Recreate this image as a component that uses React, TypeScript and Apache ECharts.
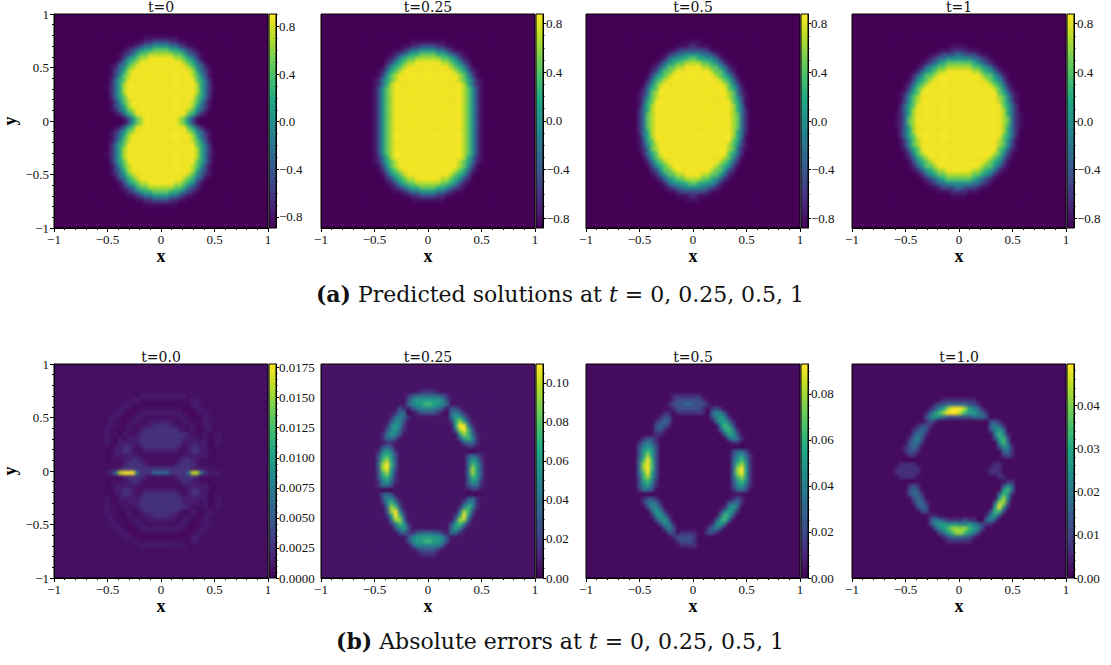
import React, { useEffect, useRef } from "react";
import * as echarts from "echarts";

const SERIF = "'Liberation Serif', serif";
const WIDE_SERIF = "'DejaVu Serif', serif";
const VIRIDIS = ["#440154", "#482475", "#414487", "#355f8d", "#2a788e", "#21918c", "#22a884", "#44bf70", "#7ad151", "#bddf26", "#fde725"];

const TOP_TITLES = ["t=0", "t=0.25", "t=0.5", "t=1"];
const BOTTOM_TITLES = ["t=0.0", "t=0.25", "t=0.5", "t=1.0"];

const TOP_RANGES = [[-0.893, 0.905], [-0.88, 0.878], [-0.88, 0.88], [-0.88, 0.88]];
const BOTTOM_MAX = [0.0178, 0.1097, 0.093, 0.0495];
const TOP_CB_TICKS = [-0.8, -0.4, 0, 0.4, 0.8];
const BOTTOM_CB_TICKS = [
  [0, 0.0025, 0.005, 0.0075, 0.01, 0.0125, 0.015, 0.0175],
  [0, 0.02, 0.04, 0.06, 0.08, 0.1],
  [0, 0.02, 0.04, 0.06, 0.08],
  [0, 0.01, 0.02, 0.03, 0.04],
];
const BOTTOM_CB_MINOR = [0.0005, 0.005, 0.005, 0.002];
const BOTTOM_CB_DECIMALS = [4, 2, 2, 2];

// brightness codes 0-9 -> fraction of the colour range
const TOP_LEVELS = [0, 0.04, 0.12, 0.22, 0.36, 0.5, 0.62, 0.75, 0.88, 0.985];
const ERR_LEVELS = [0, 0.03, 0.13, 0.24, 0.34, 0.44, 0.55, 0.68, 0.85, 1];
const ERR25_LEVELS = [0, 0.055, 0.14, 0.25, 0.34, 0.44, 0.55, 0.68, 0.85, 1];
const ERR0_LEVELS = [0, 0.02, 0.04, 0.075, 0.14, 0.33, 0.47, 0.7, 0.9, 1];

// predicted solutions: quarter of each (symmetric) field, x = .02 ... .58, y = .78 ... .02
const SOL_T0 = ["111100000000000", "332211000000000", "554432110000000", "776654321000000", "888776432100000", "999887653100000", "999998764310000", "999999875421000", "999999986431000", "999999987531000", "999999997642000", "999999998642000", "999999998642100", "999999998642000", "999999997642000", "999999987531000", "999999986431000", "999999875421000", "999999764210000", "999987531000000"];
const SOL_T025 = ["000000000000000", "111100000000000", "332211000000000", "554432110000000", "776654321000000", "888776532100000", "999887653200000", "999998765310000", "999999876421000", "999999987531000", "999999987642100", "999999998642100", "999999998753100", "999999998753100", "999999998753100", "999999998753100", "999999998753100", "999999998753100", "999999998753100", "999999998753100"];
const SOL_T05 = ["000000000000000", "110000000000000", "211100000000000", "333211000000000", "554432100000000", "766554210000000", "887765421000000", "998877542100000", "999987753200000", "999998765310000", "999999876420000", "999999987531000", "999999997642000", "999999998742100", "999999998753100", "999999999763100", "999999999864100", "999999999864200", "999999999874200", "999999999874200"];
const SOL_T1 = ["000000000000000", "000000000000000", "110000000000000", "221110000000000", "433321100000000", "555443210000000", "777654321000000", "888776542100000", "999887654210000", "999998775421000", "999999876531000", "999999987642100", "999999998753100", "999999999764210", "999999999875310", "999999999875310", "999999999976420", "999999999986420", "999999999986421", "999999999987421"];

// absolute errors: x = -.62 ... .62 (32 cols), y = .78 ... -.78 (40 rows)
const ERR_T0 = [
  "22222222222222222222222222222222",
  "22222222222222222222222222222222",
  "22222222222333333333332222222222",
  "22222222233222222222222332222222",
  "22222223322111111111122332222222",
  "22222233211222222222211233222222",
  "22222332112333333333321123322222",
  "22223321123322222222332112332222",
  "22223221233223333332233122322222",
  "22233221322233444433222312332222",
  "22232212322344444444322321232222",
  "22232213223444444444443222312322",
  "22232132333444444444433332312322",
  "22232133333444444444433333312322",
  "22221334432344444444323443312222",
  "22212334432233333333223443321222",
  "22212333333222222222233333321222",
  "22212223344322222222344332212222",
  "22222223444432222223444432222222",
  "22222334444444444444444333322222",
  "22234589995444555544445885433322",
  "22222223444432222223444432222222",
  "22212223344322222222344332212222",
  "22212333333222222222233333321222",
  "22212334432233333333223443321222",
  "22221334432344444444323443312222",
  "22232133333444444444433333312322",
  "22232132333444444444433332312322",
  "22232213223444444444443222312322",
  "22232212322344444444322321232222",
  "22233221322233444433222312332222",
  "22223221233223333332233122322222",
  "22223321123322222222332112332222",
  "22222332112333333333321123322222",
  "22222233211222222222211233222222",
  "22222223322111111111122332222222",
  "22222222233222222222222332222222",
  "22222222222333333333332222222222",
  "22222222222222222222222222222222",
  "22222222222222222222222222222222",
];
const ERR_T025 = [
  "11111111111111111111111111111111",
  "11111111111111222211111111111111",
  "11111111111234444443211111111111",
  "11111111111356666665311111111111",
  "11111111111456677665411111111111",
  "11111111132134555543133211111111",
  "11111111244012333321045421111111",
  "11111112454211111111146642111111",
  "11111113553111111111126863111111",
  "11111125652111111111116995211111",
  "11111135642111111111114897311111",
  "11111246531111111111111687421111",
  "11111244311111111111111367521111",
  "11111122111111111111111134421111",
  "11111343111111111111111112211111",
  "11112565211111111111111110011111",
  "11113676311111111111111113432111",
  "11113786311111111111111114652111",
  "11114897311111111111111114763111",
  "11113896311111111111111114863111",
  "11113786211111111111111114863111",
  "11113675211111111111111114763111",
  "11112564211111111111111113652111",
  "11112443111111111111111113442111",
  "11111000111111111111111111221111",
  "11111343111111111111111110001111",
  "11111355311111111111111113421111",
  "11111257521111111111111135521111",
  "11111148731111111111111257521111",
  "11111138952111111111111487311111",
  "11111126973111111111112696211111",
  "11111114884111111111114884111111",
  "11111112576211111111136752111111",
  "11111111356311111111146521111111",
  "11111111134223444432144211111111",
  "11111111111356666665311111111111",
  "11111111111356677665311111111111",
  "11111111111135555553111111111111",
  "11111111111112333321111111111111",
  "11111111111111222211111111111111",
];
const ERR_T05 = [
  "11111111111111111111111111111111",
  "11111111111111111111111111111111",
  "11111111111222222211111111111111",
  "11111111111233333321111111111111",
  "11111111112333443332111111111111",
  "11111111111233333321232111111111",
  "11111111122122222220455311111111",
  "11111111233111111111356521111111",
  "11111112343111111111146642111111",
  "11111113432111111111115763111111",
  "11111113321111111111113675211111",
  "11111112211111111111111466311111",
  "11112332111111111111111145421111",
  "11124542111111111111111112211111",
  "11135653111111111111111110001111",
  "11136763111111111111111113443111",
  "11136863111111111111111113564211",
  "11147973111111111111111114675211",
  "11148973111111111111111114786211",
  "11148973111111111111111114896211",
  "11147963111111111111111114896211",
  "11137863111111111111111114786211",
  "11136752111111111111111113675211",
  "11135642111111111111111113564211",
  "11124431111111111111111112443111",
  "11110001111111111111111111111111",
  "11112332111111111111111112321111",
  "11112454211111111111111134421111",
  "11111355311111111111111256411111",
  "11111146521111111111112565211111",
  "11111125642111111111114763111111",
  "11111113563111111111136741111111",
  "11111111355211111111256411111111",
  "11111111135311111112453111111111",
  "11111111113312222113321111111111",
  "11111111111233332111111111111111",
  "11111111111123332111111111111111",
  "11111111111112222111111111111111",
  "11111111111111111111111111111111",
  "11111111111111111111111111111111",
];
const ERR_T1 = [
  "11111111111111111111111111111111",
  "11111111111111111111111111111111",
  "11111111111111111111111111111111",
  "11111111111122222222111111111111",
  "11111111112334444433211111111111",
  "11111111123568999865421111111111",
  "11111111246789998766542111111111",
  "11111111356543333334443011111111",
  "11111111232111111111110332111111",
  "11111123321111111111111454211111",
  "11111234311111111111111356411111",
  "11111344211111111111111157521111",
  "11112453111111111111111136731111",
  "11113442111111111111111115741111",
  "11123431111111111111111113552111",
  "11123321111111111111111111442111",
  "11112211111111111111111111232111",
  "11100011111111111111111111111111",
  "11222211111111111111111122111111",
  "12222221111111111111111222111111",
  "12222221111111111111111222111111",
  "11222211111111111111111112211111",
  "11100011111111111111111111122111",
  "11112321111111111111111111354111",
  "11113431111111111111111111674111",
  "11113442111111111111111114762111",
  "11111343111111111111111116851111",
  "11111244211111111111111148831111",
  "11111134311111111111111169621111",
  "11111113311111111111111377311111",
  "11111111122111111111112563111111",
  "11111111135432222322104531111111",
  "11111111135666665565432211111111",
  "11111111113567888876531111111111",
  "11111111111346788765311111111111",
  "11111111111123444432111111111111",
  "11111111111112222221111111111111",
  "11111111111111111111111111111111",
  "11111111111111111111111111111111",
  "11111111111111111111111111111111",
];

const SOL_FIELDS = [SOL_T0, SOL_T025, SOL_T05, SOL_T1];
const ERR_FIELDS = [ERR_T0, ERR_T025, ERR_T05, ERR_T1];
const ERR_LEVEL_SETS = [ERR0_LEVELS, ERR25_LEVELS, ERR_LEVELS, ERR_LEVELS];
const ERR_BACK = ["#450e60", "#461365", "#450b5e", "#450b5e"];

const PANEL_LEFT = [54, 321, 586, 852];
const ROW_TOP = [14, 364];
const PANEL = 214;
const CB_W = 7;
const BAND = Array.from({ length: 50 }, (_, i) => String(i));

const sig = (v: number | string) => String(v).replace("-", "\u2212");

function solCells(rows: string[], lo: number, hi: number) {
  const out: number[][] = [];
  rows.forEach((row, r) => {
    const full = row.split("").reverse().join("") + row;
    full.split("").forEach((c, i) => {
      const v = lo + TOP_LEVELS[+c] * (hi - lo);
      out.push([10 + i, 44 - r, v], [10 + i, 5 + r, v]);
    });
  });
  return out;
}
function errCells(rows: string[], levels: number[], hi: number) {
  const out: number[][] = [];
  rows.forEach((row, r) => {
    row.padEnd(32, "1").slice(0, 32).split("").forEach((c, i) => {
      out.push([9 + i, 44 - r, levels[+c] * hi]);
    });
  });
  return out;
}
function minorValues(lo: number, hi: number, step: number, majors: number[]) {
  const out: number[] = [];
  const n0 = Math.ceil(lo / step);
  const n1 = Math.floor(hi / step);
  for (let n = n0; n <= n1; n++) {
    const v = +(n * step).toFixed(6);
    if (!majors.some((m) => Math.abs(m - v) < step / 10)) out.push(v);
  }
  return out;
}

type Spec = { row: number; col: number; name: string; data: number[][]; lo: number; hi: number; back: string; cbTicks: number[]; cbMinor: number[]; decimals: number };

function specs(): Spec[] {
  const out: Spec[] = [];
  TOP_TITLES.forEach((name, c) => {
    const [lo, hi] = TOP_RANGES[c];
    out.push({ row: 0, col: c, name, data: solCells(SOL_FIELDS[c], lo, hi), lo, hi, back: "#440154", cbTicks: TOP_CB_TICKS, cbMinor: minorValues(lo, hi, 0.1, TOP_CB_TICKS), decimals: 1 });
  });
  BOTTOM_TITLES.forEach((name, c) => {
    const hi = BOTTOM_MAX[c];
    out.push({ row: 1, col: c, name, data: errCells(ERR_FIELDS[c], ERR_LEVEL_SETS[c], hi), lo: 0, hi, back: ERR_BACK[c], cbTicks: BOTTOM_CB_TICKS[c], cbMinor: minorValues(0, hi, BOTTOM_CB_MINOR[c], BOTTOM_CB_TICKS[c]), decimals: BOTTOM_CB_DECIMALS[c] });
  });
  return out;
}

// Frames, axes, colour bars, texts.
function frameOption() {
  const grid: any[] = [];
  const xAxis: any[] = [];
  const yAxis: any[] = [];
  const title: any[] = [];
  const tickText = { fontFamily: SERIF, fontSize: 13, color: "#111" };
  const line = { lineStyle: { color: "#000", width: 1 } };
  const nameText = { fontFamily: SERIF, fontSize: 18, fontWeight: "bold", color: "#000" };

  specs().forEach((s) => {
    const left = PANEL_LEFT[s.col];
    const top = ROW_TOP[s.row];
    title.push({
      text: s.name, left: left + PANEL / 2, top: top - 14, padding: 0, textAlign: "center",
      textStyle: { fontFamily: WIDE_SERIF, fontSize: 14, fontWeight: "normal", color: "#111" },
    });
    const g = grid.length;
    grid.push({ show: true, left, top, width: PANEL, height: PANEL, backgroundColor: s.back, borderColor: "#000", borderWidth: 1 });
    xAxis.push({
      type: "value", gridIndex: g, min: -1, max: 1, interval: 0.5, position: "bottom",
      splitLine: { show: false },
      axisLine: { show: true, onZero: false, ...line },
      axisTick: { show: true, length: 4, ...line },
      minorTick: { show: true, splitNumber: 5, length: 2, ...line },
      axisLabel: { ...tickText, margin: 5, formatter: sig },
      name: "x", nameLocation: "middle", nameGap: 18, nameTextStyle: nameText,
    });
    yAxis.push({
      type: "value", gridIndex: g, min: -1, max: 1, interval: 0.5, position: "left",
      show: s.col === 0,
      splitLine: { show: false },
      axisLine: { show: true, onZero: false, ...line },
      axisTick: { show: true, length: 4, ...line },
      minorTick: { show: true, splitNumber: 5, length: 2, ...line },
      axisLabel: { ...tickText, margin: 5, formatter: sig },
      name: "y", nameLocation: "middle", nameGap: 35, nameRotate: 90, nameTextStyle: nameText,
    });

    const cg = grid.length;
    grid.push({
      show: true, left: left + PANEL + 1, top, width: CB_W, height: PANEL, borderColor: "#000", borderWidth: 1,
      backgroundColor: {
        type: "linear", x: 0, y: 1, x2: 0, y2: 0,
        colorStops: VIRIDIS.map((color, i) => ({ offset: i / (VIRIDIS.length - 1), color })),
      },
    });
    xAxis.push({ type: "value", gridIndex: cg, min: 0, max: 1, show: false });
    yAxis.push({
      type: "value", gridIndex: cg, position: "right", min: s.lo, max: s.hi, splitLine: { show: false },
      axisLine: { show: true, onZero: false, ...line },
      axisTick: { show: true, length: 3, customValues: s.cbTicks, ...line },
      axisLabel: { ...tickText, margin: 3, customValues: s.cbTicks, formatter: (v: number) => sig(Math.abs(v) < 1e-9 ? (0).toFixed(s.decimals) : v.toFixed(s.decimals)) },
    });
    yAxis.push({
      type: "value", gridIndex: cg, position: "right", min: s.lo, max: s.hi, splitLine: { show: false },
      axisLine: { show: false, onZero: false },
      axisTick: { show: true, length: 1.5, customValues: s.cbMinor, ...line },
      axisLabel: { show: false },
    });
  });

  const rich = {
    b: { fontFamily: WIDE_SERIF, fontSize: 22, fontWeight: "bold", color: "#111" },
    i: { fontFamily: WIDE_SERIF, fontSize: 22, fontStyle: "italic", color: "#111" },
  };
  const capStyle = { fontFamily: WIDE_SERIF, fontSize: 22, fontWeight: "normal", color: "#111", rich };
  title.push({ text: "{b|(a)} Predicted solutions at {i|t} = 0, 0.25, 0.5, 1", left: 555, top: 278, textAlign: "center", textStyle: capStyle });
  title.push({ text: "{b|(b)} Absolute errors at {i|t} = 0, 0.25, 0.5, 1", left: 555, top: 625, textAlign: "center", textStyle: capStyle });

  return { animation: false, title, grid, xAxis, yAxis };
}

// The eight fields, softened by a CSS blur as the reference image is smoothly shaded.
function fieldOption() {
  const grid: any[] = [];
  const xAxis: any[] = [];
  const yAxis: any[] = [];
  const series: any[] = [];
  const visualMap: any[] = [];
  specs().forEach((s, i) => {
    grid.push({ left: PANEL_LEFT[s.col], top: ROW_TOP[s.row], width: PANEL, height: PANEL });
    xAxis.push({ type: "category", gridIndex: i, data: BAND, show: false });
    yAxis.push({ type: "category", gridIndex: i, data: BAND, show: false });
    series.push({ type: "heatmap", xAxisIndex: i, yAxisIndex: i, data: s.data, progressive: 0, silent: true, emphasis: { disabled: true } });
    visualMap.push({ show: false, type: "continuous", seriesIndex: i, dimension: 2, min: s.lo, max: s.hi, inRange: { color: VIRIDIS } });
  });
  return { animation: false, grid, xAxis, yAxis, series, visualMap };
}

const LAYER: React.CSSProperties = { position: "absolute", left: 0, top: 0, width: 1111, height: 665 };

export default function App() {
  const frameRef = useRef<HTMLDivElement>(null);
  const fieldRef = useRef<HTMLDivElement>(null);
  useEffect(() => {
    const frame = echarts.init(frameRef.current!, undefined, { renderer: "svg" });
    const field = echarts.init(fieldRef.current!, undefined, { renderer: "svg" });
    frame.setOption(frameOption() as any);
    field.setOption(fieldOption() as any);
    return () => {
      field.dispose();
      frame.dispose();
    };
  }, []);
  return (
    <div style={{ ...LAYER, background: "#fff" }}>
      <div ref={frameRef} style={LAYER} />
      <div ref={fieldRef} style={{ ...LAYER, filter: "blur(1.6px)", pointerEvents: "none" }} />
    </div>
  );
}
